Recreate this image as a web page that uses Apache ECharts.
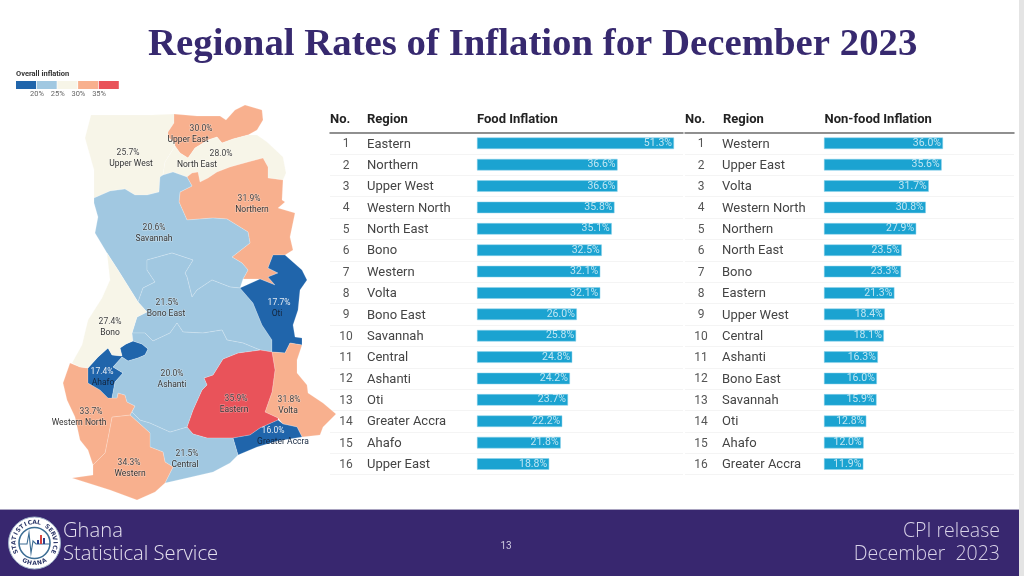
<!DOCTYPE html>
<html>
<head>
<meta charset="utf-8">
<style>html,body{margin:0;padding:0;background:#fff}#c{width:1024px;height:576px}</style>
<script src="https://cdn.jsdelivr.net/npm/echarts@6/dist/echarts.min.js"></script>
</head>
<body>
<div id="c"></div>
<script>
// ---- data ----
const chartTitle = 'Regional Rates of Inflation for December 2023';
const foodRegions = ['Eastern','Northern','Upper West','Western North','North East','Bono','Western','Volta','Bono East','Savannah','Central','Ashanti','Oti','Greater Accra','Ahafo','Upper East'];
const foodValues = [51.3,36.6,36.6,35.8,35.1,32.5,32.1,32.1,26.0,25.8,24.8,24.2,23.7,22.2,21.8,18.8];
const nonFoodRegions = ['Western','Upper East','Volta','Western North','Northern','North East','Bono','Eastern','Upper West','Central','Ashanti','Bono East','Savannah','Oti','Ahafo','Greater Accra'];
const nonFoodValues = [36.0,35.6,31.7,30.8,27.9,23.5,23.3,21.3,18.4,18.1,16.3,16.0,15.9,12.8,12.0,11.9];
const mapRegions = ['Upper West','Upper East','North East','Northern','Savannah','Bono East','Oti','Volta','Eastern','Greater Accra','Central','Western','Western North','Ahafo','Bono','Ashanti'];
const overallValues = [25.7,30.0,28.0,31.9,20.6,21.5,17.7,31.8,35.9,16.0,21.5,34.3,33.7,17.4,27.4,20.0];
const legendTicks = ['20%','25%','30%','35%'];
const legendColors = ['#2065ab','#a1c8e1','#f7f5e8','#f8b08e','#e9535a'];

// ---- region outlines (map geometry, in screen-like units) ----
const outlines = {
 'Upper West': [[91,115],[120,115],[150,115],[174,114],[174,123],[168,132],[168,137],[175,143],[175,146],[165,162],[163,175],[160,177],[159,192],[147,195],[135,195],[125,189],[110,191],[94,198],[94,170],[85,138]],
 'Upper East': [[174,114],[197,116],[220,116],[226,120],[235,110],[245,105],[262,110],[263,120],[257,130],[248,135],[233,139],[222,143],[217,137],[208,140],[195,148],[188,158],[180,153],[175,146],[175,143],[168,137],[168,132],[174,123]],
 'North East': [[175,146],[180,153],[188,158],[195,148],[208,140],[217,137],[222,143],[233,139],[248,135],[257,135],[267,142],[283,157],[286,173],[283,180],[268,178],[268,167],[263,158],[248,162],[230,167],[217,172],[208,178],[200,182],[198,172],[192,173],[187,177],[173,172],[163,175],[165,162]],
 'Northern': [[187,177],[192,173],[198,172],[200,182],[208,178],[217,172],[230,167],[248,162],[263,158],[268,167],[268,178],[283,180],[282,200],[285,202],[278,208],[295,213],[290,237],[293,250],[285,255],[273,255],[268,268],[278,273],[268,277],[275,285],[260,279],[243,279],[248,270],[242,263],[232,257],[250,243],[248,232],[227,219],[213,218],[187,220],[179,202],[180,192],[192,186]],
 'Savannah': [[94,198],[110,191],[125,189],[135,195],[147,195],[159,192],[160,177],[163,175],[173,172],[187,177],[192,186],[180,192],[179,202],[187,220],[213,218],[227,219],[248,232],[250,243],[232,257],[242,263],[248,270],[243,279],[240,288],[230,287],[212,280],[197,290],[192,297],[187,277],[185,273],[193,260],[172,253],[147,260],[147,270],[155,282],[143,288],[138,302],[118,270],[107,253],[95,233],[98,217],[94,203]],
 'Bono East': [[138,302],[143,288],[155,282],[147,270],[147,260],[172,253],[193,260],[185,273],[187,277],[192,297],[197,290],[212,280],[230,287],[240,288],[253,303],[262,325],[272,340],[272,352],[260,350],[243,343],[227,340],[222,330],[203,333],[183,332],[177,323],[170,333],[153,341],[145,333],[132,333],[137,317],[147,312]],
 'Oti': [[273,255],[285,255],[302,270],[307,280],[300,290],[298,310],[293,325],[295,337],[302,338],[302,345],[290,343],[285,353],[272,352],[272,340],[262,325],[253,303],[240,288],[260,279],[275,285],[268,277],[278,273],[268,268]],
 'Volta': [[272,352],[285,353],[290,343],[302,345],[297,360],[297,373],[307,385],[308,393],[323,403],[336,414],[323,427],[320,435],[302,437],[297,427],[283,424],[278,418],[265,412],[272,392],[275,370]],
 'Eastern': [[223,359],[238,353],[260,350],[272,352],[275,370],[272,392],[265,412],[278,418],[278,420],[260,428],[250,435],[233,438],[207,438],[193,434],[187,427],[193,410],[202,390],[207,385],[204,378],[213,375]],
 'Greater Accra': [[233,438],[250,435],[260,428],[278,420],[283,424],[297,427],[302,437],[277,441],[257,447],[238,455]],
 'Central': [[135,406],[132,412],[140,420],[150,423],[170,432],[187,427],[193,434],[207,438],[233,438],[238,455],[230,463],[213,472],[187,478],[165,483],[173,467],[165,462],[163,452],[150,447],[150,433],[130,415]],
 'Western': [[130,415],[150,433],[150,447],[163,452],[165,462],[173,467],[165,483],[155,492],[137,500],[110,490],[72,478],[93,475],[93,465],[105,453],[109,433],[112,417]],
 'Western North': [[70,363],[80,367],[88,368],[88,383],[100,390],[108,398],[117,398],[118,393],[125,395],[127,402],[135,406],[130,415],[112,417],[109,433],[105,453],[93,465],[88,450],[80,440],[75,417],[67,400],[63,383]],
 'Ahafo': [[88,368],[98,357],[108,348],[112,355],[122,356],[120,348],[126,344],[133,341],[142,344],[148,349],[145,355],[138,358],[128,361],[122,357],[113,367],[123,373],[115,382],[112,398],[108,398],[100,390],[88,383]],
 'Bono': [[107,253],[118,270],[138,302],[147,312],[137,317],[132,333],[133,341],[126,344],[120,348],[122,356],[112,355],[108,348],[98,357],[88,368],[80,367],[72,363],[82,345],[88,320],[102,298],[110,280]],
 'Ashanti': [[132,333],[145,333],[153,341],[170,333],[177,323],[183,332],[203,333],[222,330],[227,340],[243,343],[260,350],[238,353],[223,359],[213,375],[204,378],[207,385],[202,390],[193,410],[187,427],[170,432],[150,423],[140,420],[132,412],[135,406],[127,402],[125,395],[118,393],[117,398],[112,398],[115,382],[123,373],[113,367],[122,357],[128,361],[138,358],[145,355],[148,349],[142,344],[133,341]]
};
// label anchor of each region and horizontal shift of the value line relative to the name line
const anchors = {
 'Upper West':[131,158,-3],'Upper East':[188,134,13],'North East':[197,159,24],'Northern':[252,204,-3],
 'Savannah':[154,233,0],'Bono East':[166,308,1],'Oti':[277,308,2],'Volta':[288,405,1],'Eastern':[234,404,2],
 'Greater Accra':[283,436,-10],'Central':[185,459,2],'Western':[130,468,-1],'Western North':[79,417,12],
 'Ahafo':[103,377,-1],'Bono':[110,327,0],'Ashanti':[172,379,0]
};

const features = mapRegions.map(n => ({
  type:'Feature',
  properties:{name:n, cp:[anchors[n][0], -anchors[n][1]]},
  geometry:{type:'Polygon', coordinates:[outlines[n].concat([outlines[n][0]]).map(p=>[p[0],-p[1]])]}
}));
echarts.registerMap('ghana',{type:'FeatureCollection',features});
const allPts = Object.values(outlines).flat();
const minX = Math.min(...allPts.map(p=>p[0])), maxX = Math.max(...allPts.map(p=>p[0]));
const minY = Math.min(...allPts.map(p=>p[1])), maxY = Math.max(...allPts.map(p=>p[1]));

const mapData = mapRegions.map((n,i)=>{
  const s = anchors[n][2];
  const vPad = s>0 ? [0,0,0,2*s] : [0,-2*s,0,0];
  const dark = overallValues[i] < 20;
  return {name:n,value:overallValues[i],label:{rich:{
    v:{fontFamily:'Roboto',fontSize:8.5,color:dark?'#e6ecf3':'#444',lineHeight:11,padding:vPad,textBorderColor:dark?'transparent':'rgba(255,255,255,.4)',textBorderWidth:dark?0:1},
    n:{fontFamily:'Roboto',fontSize:8.5,color:dark?'#14253d':'#333',lineHeight:11,textBorderColor:dark?'transparent':'rgba(255,255,255,.4)',textBorderWidth:dark?0:1}
  }}};
});

function barParts(idx, left, width, zero, scale, cats, vals){
  const rowLabel = (v,i)=>`{no|${i+1}}{nm|${v}}`;
  return {
    grid:{left,width,top:132.6,height:342.1,containLabel:false},
    xAxis:{gridIndex:idx,type:'value',position:'top',min:-(zero-left)/scale,max:(left+width-zero)/scale,
      axisLine:{show:true,onZero:false,lineStyle:{color:'#6e6e6e',width:1.5}},axisTick:{show:false},axisLabel:{show:false},splitLine:{show:false}},
    yAxis:{gridIndex:idx,type:'category',inverse:true,data:cats,axisLine:{show:false},axisTick:{show:false},
      splitLine:{show:true,interval:0,lineStyle:{color:'#f4f4f4',width:1}},
      axisLabel:{inside:true,interval:0,margin:0,align:'left',padding:[2,0,0,0],formatter:rowLabel,rich:{
        no:{width:32,align:'center',fontFamily:'Roboto',fontSize:12,color:'#555'},
        nm:{padding:[0,0,0,5],fontFamily:'Roboto',fontSize:13,color:'#444'}}}},
    series:{type:'bar',xAxisIndex:idx,yAxisIndex:idx,data:vals,barWidth:11.5,silent:true,animation:false,
      itemStyle:{color:'#1ba3d1',borderColor:'#8ed3ea',borderWidth:0.5},
      label:{show:true,position:'insideRight',distance:2,fontFamily:'Roboto',fontSize:10.5,color:'rgba(255,255,255,.72)',
        formatter:p=>p.value.toFixed(1)+'%'}}
  };
}
const food = barParts(0,330,353,477,3.84,foodRegions,foodValues);
const nonFood = barParts(1,685,329,824,3.305,nonFoodRegions,nonFoodValues);

// ---- static page furniture ----
const txt=(x,y,text,size,weight,fill,family,align)=>({type:'text',x,y,silent:true,style:{text,fontSize:size,fontWeight:weight,fill,fontFamily:family||'Roboto',align:align||'left',verticalAlign:'middle'}});
const headers=[
  txt(330,119.5,'No.',13,'bold','#222'),
  txt(367,119.5,'Region',13,'bold','#222'),
  txt(477,119.5,'Food Inflation',13,'bold','#222'),
  txt(685,119.5,'No.',13,'bold','#222'),
  txt(723,119.5,'Region',13,'bold','#222'),
  txt(824.5,119.5,'Non-food Inflation',13,'bold','#222')
];
const legend=[txt(16,74.5,'Overall inflation',7.5,'bold','#333')];
legendColors.forEach((c,i)=>legend.push({type:'rect',silent:true,shape:{x:16+i*20.7,y:81,width:20,height:8},style:{fill:c}}));
legendTicks.forEach((t,i)=>legend.push(txt(37+i*20.7,94.3,t,7.5,'normal','#666','Roboto','center')));

const footer=[
  {type:'rect',silent:true,shape:{x:1019,y:0,width:5,height:576},style:{fill:'#e4e4e4'}},
  {type:'rect',silent:true,shape:{x:0,y:509,width:1019,height:1},style:{fill:'#a9a3c0'}},
  {type:'rect',silent:true,shape:{x:0,y:510,width:1019,height:66},style:{fill:'#38276f'}},
  txt(63,531,'Ghana',20.2,'300','#e4e0ee','"Open Sans"'),
  txt(63,554.5,'Statistical Service',20.2,'300','#e4e0ee','"Open Sans"'),
  txt(1000,531,'CPI release',19.5,'300','#d9d3e8','"Open Sans"','right'),
  txt(1000,554.5,'December  2023',19.5,'300','#d9d3e8','"Open Sans"','right'),
  txt(506,546,'13',10,'normal','#cfcbe0','Roboto','center')
];
// logo
const cx=34.5, cy=543;
const logo=[
  {type:'circle',silent:true,shape:{cx,cy,r:26},style:{fill:'#fff',stroke:'#9fb0c8',lineWidth:1}},
  {type:'circle',silent:true,shape:{cx,cy,r:15.5},style:{fill:'#fff',stroke:'#3c6d94',lineWidth:1.6}},
  {type:'polyline',silent:true,shape:{points:[[19,544],[27,544],[29,533],[31,553],[33,541],[36,544],[50,544]]},style:{fill:'none',stroke:'#3c6d94',lineWidth:1.1}},
  {type:'rect',silent:true,shape:{x:37,y:540,width:2,height:4},style:{fill:'#2a3f8f'}},
  {type:'rect',silent:true,shape:{x:40,y:535,width:2,height:9},style:{fill:'#d8433f'}},
  {type:'rect',silent:true,shape:{x:43,y:538,width:2,height:6},style:{fill:'#2a3f8f'}}
];
const ring=(word,start,step,r,flip)=>[...word].forEach((ch,i)=>{
  const a=start+i*step;
  logo.push({type:'text',silent:true,x:cx+r*Math.sin(a),y:cy-r*Math.cos(a),rotation:flip?Math.PI-a:-a,
    style:{text:ch,fontSize:6,fontWeight:'bold',fontFamily:'"DejaVu Sans"',fill:'#2f3a6b',align:'center',verticalAlign:'middle'}});
});
ring('STATISTICAL SERVICE',-2.0,4/18,20.5,false);
ring('GHANA',Math.PI+0.5,-0.25,20.5,true);

const option={
  animation:false,
  backgroundColor:'#fff',
  title:{text:chartTitle,left:143,top:20,textStyle:{fontFamily:'"Liberation Serif"',fontWeight:'bold',fontSize:38.8,color:'#37296f'}},
  grid:[food.grid,nonFood.grid],
  xAxis:[food.xAxis,nonFood.xAxis],
  yAxis:[food.yAxis,nonFood.yAxis],
  visualMap:{show:false,seriesIndex:2,type:'piecewise',pieces:[
    {lt:20,color:legendColors[0]},{gte:20,lt:25,color:legendColors[1]},{gte:25,lt:30,color:legendColors[2]},
    {gte:30,lt:35,color:legendColors[3]},{gte:35,color:legendColors[4]}]},
  series:[food.series,nonFood.series,{
    type:'map',map:'ghana',aspectScale:1,roam:false,silent:true,
    left:minX,top:minY,width:maxX-minX,height:maxY-minY,
    label:{show:true,formatter:p=>`{v|${p.value.toFixed(1)}%}\n{n|${p.name}}`},
    itemStyle:{borderColor:'rgba(255,255,255,.3)',borderWidth:0.6},
    data:mapData
  }],
  graphic:{elements:[...headers,...legend,...footer,...logo]}
};
const chart=echarts.init(document.getElementById('c'),null,{renderer:'canvas'});
chart.setOption(option);
</script>
</body>
</html>
